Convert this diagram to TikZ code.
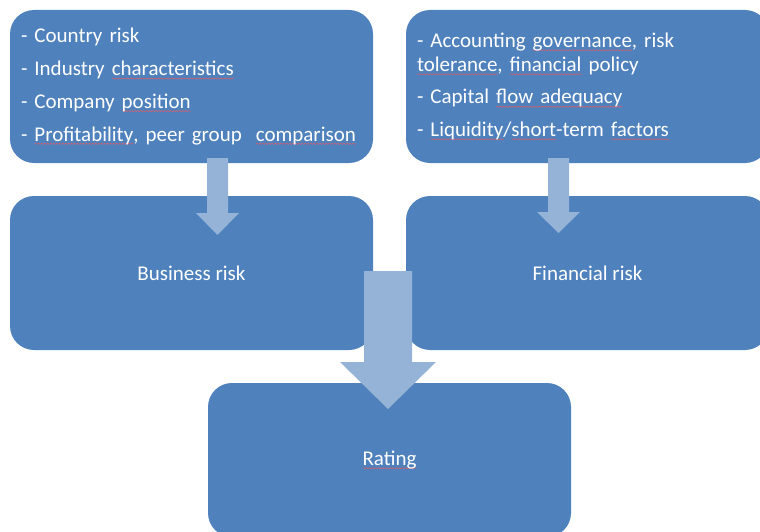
\documentclass[tikz,border=0pt]{standalone}
\usepackage{fontspec}
\setmainfont{Carlito}
\usetikzlibrary{calc,decorations.pathmorphing}

\definecolor{boxblue}{HTML}{4F81BD}
\definecolor{arrowblue}{HTML}{95B3D7}
\definecolor{spellred}{RGB}{228,92,96}

% wavy red underline for flagged words
\newsavebox\spellbox
\newlength\spellwd
\newcommand\spell[1]{%
  \sbox\spellbox{#1}\setlength\spellwd{\wd\spellbox}%
  \leavevmode\rlap{\tikz[baseline=0pt]\draw[spellline] (0pt,-2.8pt) -- (\spellwd,-2.8pt);}%
  \usebox\spellbox}

% block arrow from a top point down to a tip point:
% #1 top, #2 tip, #3 shaft half width, #4 head half width, #5 head length
\newcommand\blockarrow[5]{%
  \fill[arrowfill] let \p1=(#1), \p2=(#2) in
    (\x1-#3pt,\y1) -- (\x1+#3pt,\y1) -- (\x1+#3pt,\y2+#5pt) -- (\x1+#4pt,\y2+#5pt)
    -- (\x2,\y2) -- (\x1-#4pt,\y2+#5pt) -- (\x1-#3pt,\y2+#5pt) -- cycle;}

\tikzset{
  box/.style={fill=boxblue, rounded corners=24pt, minimum width=363pt,
    minimum height=154pt, inner sep=0pt, text=white,
    font=\fontsize{21}{25}\selectfont},
  listbox/.style={box, minimum height=153pt, align=left, text width=341pt},
  arrowfill/.style={fill=arrowblue, sharp corners},
  spellline/.style={draw=spellred, fill=none, sharp corners, line width=0.45pt,
    decorate, decoration={snake, amplitude=0.6pt, segment length=3pt}},
}

\begin{document}
\begin{tikzpicture}[x=1pt,y=-1pt]
\useasboundingbox (0,0) rectangle (760,532);
\clip (0,0) rectangle (760,532);

% factor lists
\node[listbox, font=\fontsize{21}{32.7}\selectfont] (business factors) at (191.5,86.5)
  {- Country risk\\
   - Industry \spell{characteristics}\\
   - Company \spell{position}\\
   - \spell{Profitability}, peer group\ \ \spell{comparison}};
\node[listbox, font=\fontsize{21}{24}\selectfont] (financial factors) at (587.5,86.5)
  {- Accounting \spell{governance}, risk\\
   \spell{tolerance}, \spell{financial} policy\\[8.5pt]
   - Capital \spell{flow adequacy}\\[8.5pt]
   - \spell{Liquidity}/\spell{short}-term \spell{factors}};

% risk categories and result
\node[box] (business risk) at (191.5,273) {Business risk};
\node[box] (financial risk) at (587.5,273) {Financial risk};
\node[box] (rating) at (389.5,460) {\spell{Rating}};

% arrow end points
\coordinate (b from) at (217.5,158);
\coordinate (b to) at (217.5,235);
\coordinate (f from) at (558.5,158);
\coordinate (f to) at (558.5,233);
\coordinate (r from) at (388,271);
\coordinate (r to) at (388,409);

\blockarrow{b from}{b to}{10.5}{21.5}{22}
\blockarrow{f from}{f to}{10.5}{21.5}{21}
\blockarrow{r from}{r to}{24}{48}{47}
\end{tikzpicture}
\end{document}
